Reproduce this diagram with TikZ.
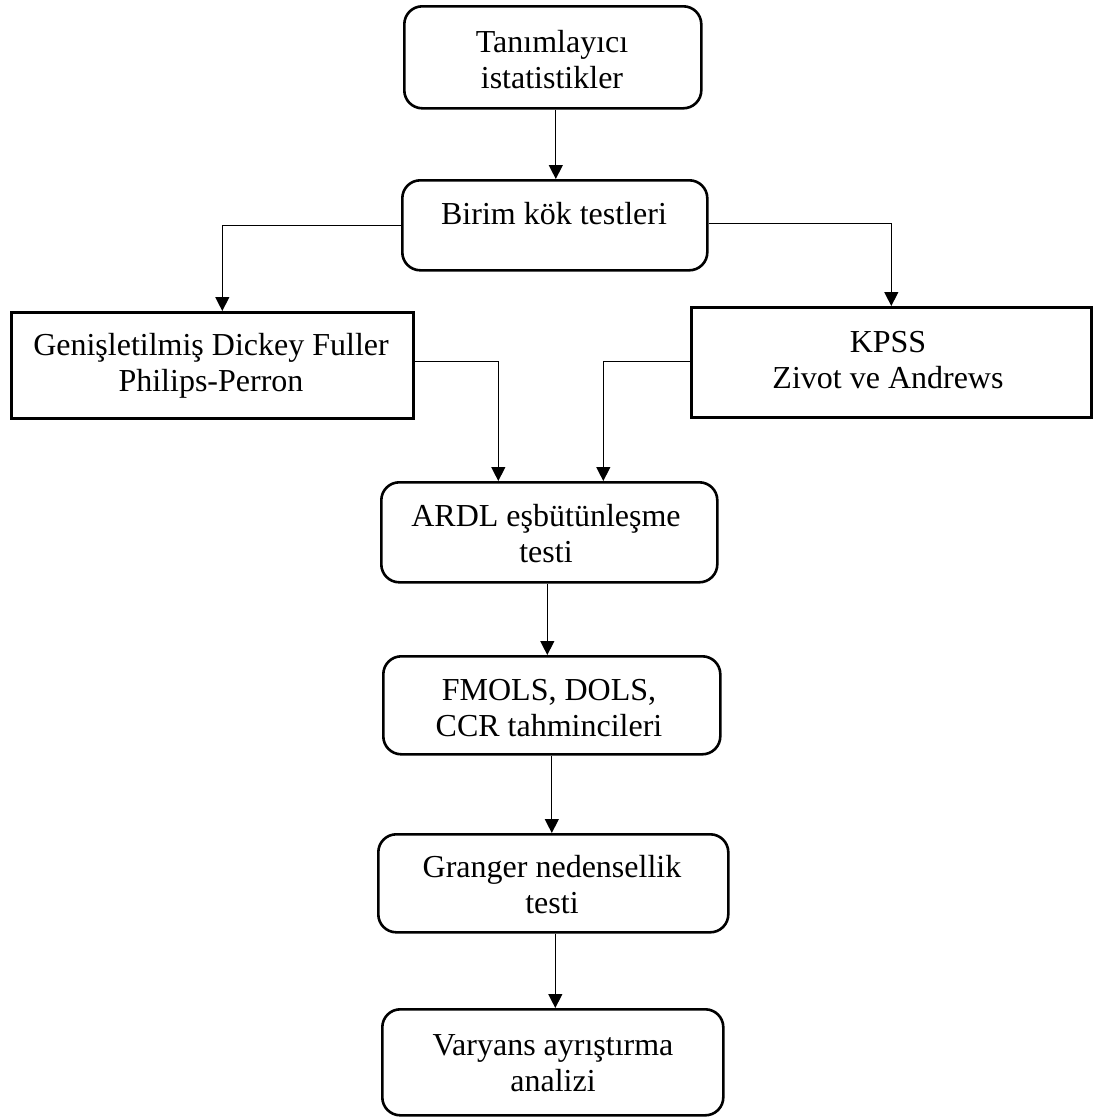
\documentclass[tikz,border=0pt]{standalone}
\usepackage{fontspec}
\setmainfont{Liberation Serif}
\usetikzlibrary{arrows.meta}
\begin{document}
\begin{tikzpicture}[x=1pt,y=-1pt,
  rbox/.style={draw=black, line width=2.6pt, rounded corners=18pt, inner sep=0pt, anchor=north west},
  sbox/.style={draw=black, line width=2.6pt, inner sep=0pt, anchor=north west},
  txt/.style={align=center, inner sep=0pt, font=\fontsize{32}{36}\selectfont},
  arr/.style={line width=1.3pt, -{Triangle[length=14pt,width=14pt]}}]
\useasboundingbox (0,0) rectangle (1094,1119);
% boxes
\node[rbox, minimum width=297pt, minimum height=102pt] (b1) at (403,5) {};
\node[rbox, minimum width=305pt, minimum height=90pt] (b2) at (401,179) {};
\node[sbox, minimum width=402pt, minimum height=106pt] (b3) at (10,311) {};
\node[sbox, minimum width=400pt, minimum height=110pt] (b4) at (690,306) {};
\node[rbox, minimum width=336pt, minimum height=100pt] (b5) at (380,481) {};
\node[rbox, minimum width=337pt, minimum height=98pt] (b6) at (382,655) {};
\node[rbox, minimum width=350pt, minimum height=98pt] (b7) at (377,833) {};
\node[rbox, minimum width=341pt, minimum height=106pt] (b8) at (381,1008) {};
% texts
\node[txt] (t1) at (552,60) {Tanımlayıcı\\istatistikler};
\node[txt] (t2) at (554,214) {Birim kök testleri};
\node[txt] (t3) at (211,366) {Genişletilmiş Dickey Fuller\\Philips-Perron};
\node[txt] (t4) at (888,360) {KPSS\\Zivot ve Andrews};
\node[txt] (t5) at (546,534) {ARDL eşbütünleşme\\testi};
\node[txt] (t6) at (549,708) {FMOLS, DOLS,\\CCR tahmincileri};
\node[txt] (t7) at (552,885) {Granger nedensellik\\testi};
\node[txt] (t8) at (553,1063) {Varyans ayrıştırma\\analizi};
% connectors
\draw[arr] ([xshift=3pt]b1.south) -- ([xshift=3pt]b1.south |- b2.north);
\draw[arr] (b2.west) -| ([xshift=10pt]b3.north);
\draw[arr] ([yshift=2pt]b2.east) -| (b4.north);
\draw[arr] ([yshift=4pt]b3.east) -| ([xshift=-51pt]b5.north);
\draw[arr] ([yshift=1pt]b4.west) -| ([xshift=54pt]b5.north);
\draw[arr] ([xshift=-2pt]b5.south) -- ([xshift=-2pt]b5.south |- b6.north);
\draw[arr] (b6.south) -- (b6.south |- b7.north);
\draw[arr] ([xshift=2pt]b7.south) -- ([xshift=2pt]b7.south |- b8.north);
\end{tikzpicture}
\end{document}
